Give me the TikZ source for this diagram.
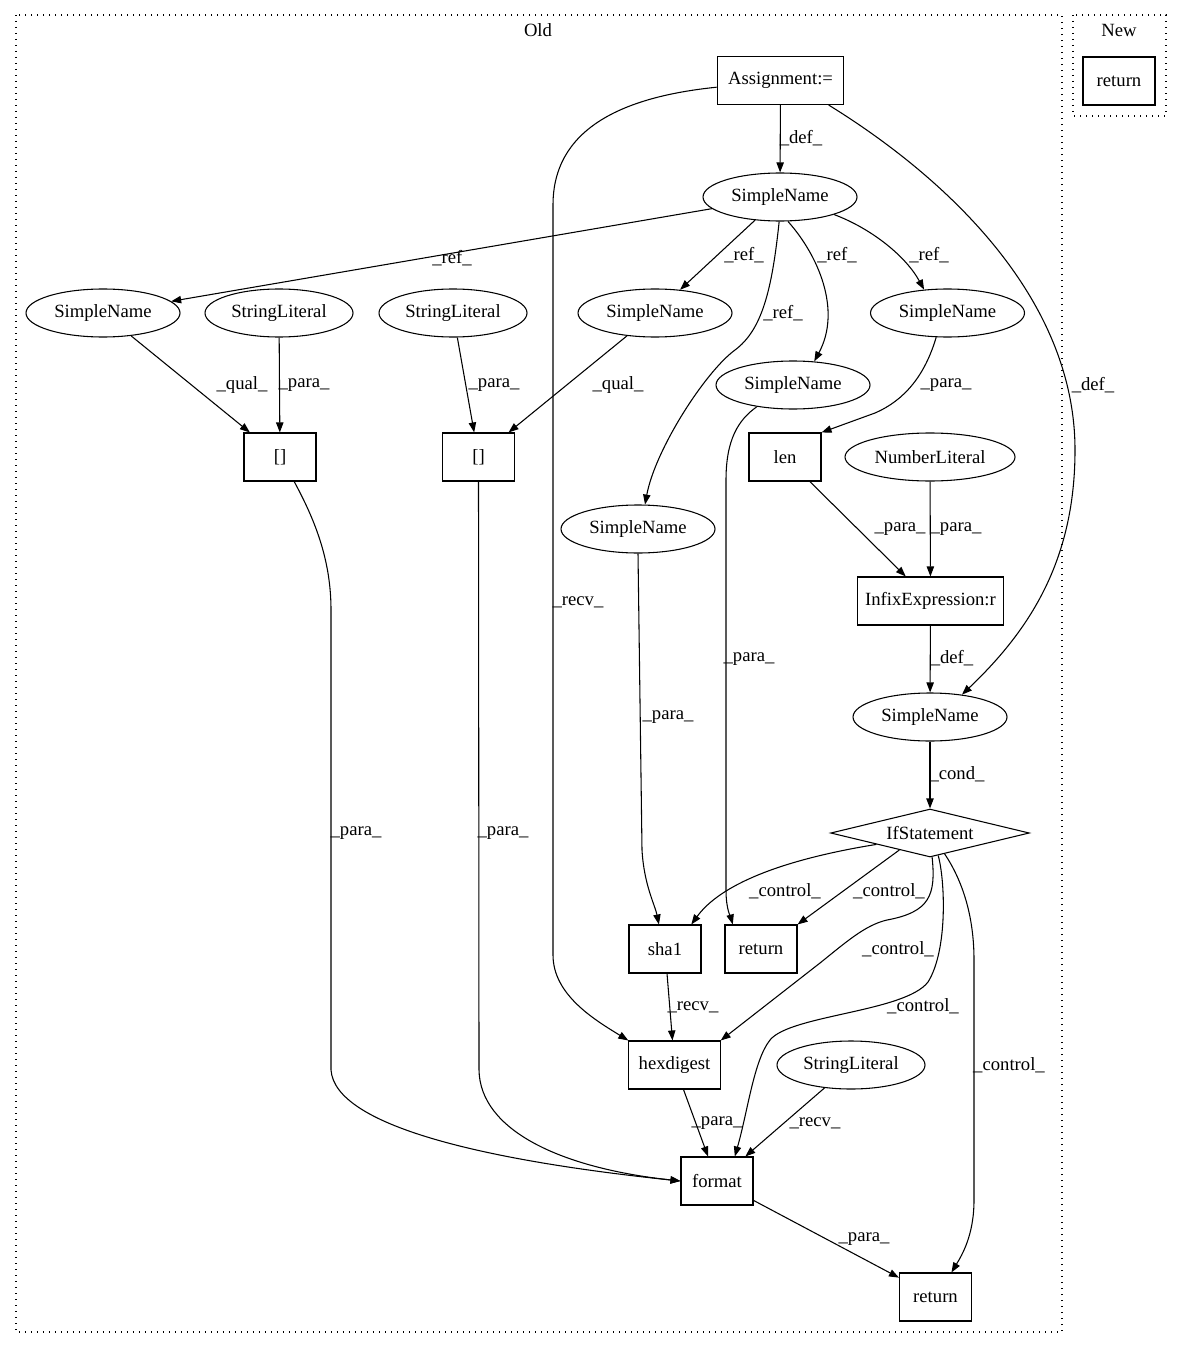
\documentclass[tikz,border=0pt]{standalone}
\usepackage{fontspec}
\setmainfont{Liberation Serif}
\usetikzlibrary{arrows.meta,shapes.geometric}
\tikzset{every picture/.style={line width=0.8pt}}

\begin{document}
\begin{tikzpicture}[x=0.75pt, y=-0.75pt, >={Triangle[length=7.5pt,width=5.5pt]},
    font=\fontsize{14}{16}\selectfont,
    astbox/.style={draw, rectangle, minimum width=54pt, minimum height=36pt, inner sep=0pt},
    astell/.style={draw, ellipse, minimum width=115.5pt, minimum height=36pt, inner sep=0pt},
    astcond/.style={draw, diamond, aspect=4, minimum width=149pt, minimum height=36pt, inner sep=0pt},
    elab/.style={inner sep=0pt},
    cluster/.style={draw, line width=0.8pt, dash pattern=on 0.8pt off 3.7pt}]
    \useasboundingbox (0,0) rectangle (1183,1348);
    % clusters
    \draw[cluster] (16,15) rectangle (1062,1332);
    \draw[cluster] (1073,15) rectangle (1166,116);
    \node[elab] (tOld) at (538,30) {Old};
    \node[elab] (tNew) at (1119,30) {New};
    % Old
    \node[astbox, minimum width=95pt] (assign) at (780.5,80.5) {Assignment:=};
    \node[astell] (sn0) at (780,197) {SimpleName};
    \node[astell] (snA) at (103,313) {SimpleName};
    \node[astell, minimum width=111pt] (strA) at (279,313) {StringLiteral};
    \node[astell, minimum width=111pt] (strB) at (453,313) {StringLiteral};
    \node[astell] (snB) at (655,313) {SimpleName};
    \node[astell] (snC) at (947.5,313) {SimpleName};
    \node[astell] (snD) at (793,385) {SimpleName};
    \node[astbox] (idxA) at (280,457) {[]};
    \node[astbox] (idxB) at (478.5,457) {[]};
    \node[astbox] (len) at (785,457) {len};
    \node[astell, minimum width=127.5pt] (numlit) at (930,457) {NumberLiteral};
    \node[astell] (snE) at (638,529) {SimpleName};
    \node[astbox, minimum width=110pt] (infix) at (930.5,601) {InfixExpression:r};
    \node[astell] (snF) at (930,717) {SimpleName};
    \node[astcond] (ifst) at (930,833) {IfStatement};
    \node[astbox] (sha1) at (665,949) {sha1};
    \node[astbox] (ret1) at (761,949) {return};
    \node[astbox, minimum width=68.5pt] (hexdig) at (674.5,1065) {hexdigest};
    \node[astell, minimum width=111pt] (strC) at (851,1065) {StringLiteral};
    \node[astbox] (format) at (717,1181) {format};
    \node[astbox] (ret2) at (935.5,1297) {return};
    % New
    \node[astbox] (newret) at (1119,81) {return};

    \draw[->] (assign) -- (sn0);
    \draw[->] (assign.-27) .. controls (950,180) and (1075,300) .. (1075,450)
        .. controls (1075,560) and (1030,630) .. (snF.35);
    \draw[->] (assign.186) .. controls (620,97) and (553,130) .. (553,205) -- (553,955)
        .. controls (553,995) and (595,1020) .. (hexdig.north west);
    \draw[->] (sn0) -- (snA);
    \draw[->] (sn0) -- (snB);
    \draw[->] (sn0.268) .. controls (772,290) and (762,330) .. (735,350)
        .. controls (705,372) and (655,450) .. (snE.74);
    \draw[->] (sn0.288) .. controls (818,255) and (842,310) .. (snD.48);
    \draw[->] (sn0.-18) .. controls (870,228) and (905,255) .. (snC.135);
    \draw[->] (snA) -- (idxA);
    \draw[->] (strA) -- (idxA);
    \draw[->] (strB) -- (idxB);
    \draw[->] (snB) -- (idxB);
    \draw[->] (snC.245) .. controls (925,375) and (905,400) .. (875,413) -- (len.north east);
    \draw[->] (snD.211) .. controls (738,420) and (726,440) .. (726,480) -- (726,890)
        .. controls (726,910) and (731,918) .. (ret1.139);
    \draw[->] (len) -- (infix);
    \draw[->] (numlit) -- (infix);
    \draw[->] (infix) -- (snF);
    \draw[->] (snF) -- (ifst);
    \draw[->] (snE.south) -- (642,850) .. controls (644,885) and (655,905) .. (sha1.104);
    \draw[->] (ifst.192) .. controls (780,860) and (720,885) .. (sha1.43);
    \draw[->] (ifst.209) -- (ret1.north east);
    \draw[->] (ifst.-85) .. controls (936,895) and (930,912) .. (887,920)
        .. controls (865,925) and (845,943) .. (820,963) -- (hexdig.north east);
    \draw[->] (ifst.-70) .. controls (945,880) and (948,950) .. (928,982)
        .. controls (905,1012) and (790,1015) .. (770,1040)
        .. controls (754,1060) and (748,1110) .. (format.54);
    \draw[->] (ifst.-55) .. controls (962,880) and (974,915) .. (974,960) -- (974,1200)
        .. controls (974,1235) and (962,1255) .. (ret2.57);
    \draw[->] (sha1) -- (hexdig);
    \draw[->] (hexdig) -- (format);
    \draw[->] (strC) -- (format);
    \draw[->] (idxA.-60) .. controls (315,520) and (331,560) .. (331,610) -- (331,1070)
        .. controls (335,1125) and (480,1160) .. (format.west);
    \draw[->] (idxB.south) -- (479,1070) .. controls (480,1130) and (560,1168) .. (format.west);
    \draw[->] (format) -- (ret2);

    % edge labels
    \node[elab] (l1) at (801,138) {\_def\_};
    \node[elab] (l2) at (1093,385) {\_def\_};
    \node[elab] (l3) at (578,602) {\_recv\_};
    \node[elab] (l4) at (452,258) {\_ref\_};
    \node[elab] (l5) at (744,255) {\_ref\_};
    \node[elab] (l6) at (783,313) {\_ref\_};
    \node[elab] (l7) at (837,255) {\_ref\_};
    \node[elab] (l8) at (929,255) {\_ref\_};
    \node[elab] (l9) at (242,385) {\_qual\_};
    \node[elab] (l10) at (304,385) {\_para\_};
    \node[elab] (l11) at (494,385) {\_para\_};
    \node[elab] (l12) at (618,385) {\_qual\_};
    \node[elab] (l13) at (946,385) {\_para\_};
    \node[elab] (l14) at (749,659) {\_para\_};
    \node[elab] (l15) at (900,529) {\_para\_};
    \node[elab] (l16) at (956,529) {\_para\_};
    \node[elab] (l17) at (952,658) {\_def\_};
    \node[elab] (l18) at (957,774) {\_cond\_};
    \node[elab] (l19) at (668,717) {\_para\_};
    \node[elab] (l20) at (785,891) {\_control\_};
    \node[elab] (l21) at (889,891) {\_control\_};
    \node[elab] (l22) at (898,949) {\_control\_};
    \node[elab] (l23) at (923,1006) {\_control\_};
    \node[elab] (l24) at (1009,1065) {\_control\_};
    \node[elab] (l25) at (693,1007) {\_recv\_};
    \node[elab] (l26) at (717,1123) {\_para\_};
    \node[elab] (l27) at (815,1123) {\_recv\_};
    \node[elab] (l28) at (356,833) {\_para\_};
    \node[elab] (l29) at (503,833) {\_para\_};
    \node[elab] (l30) at (864,1239) {\_para\_};
\end{tikzpicture}
\end{document}
